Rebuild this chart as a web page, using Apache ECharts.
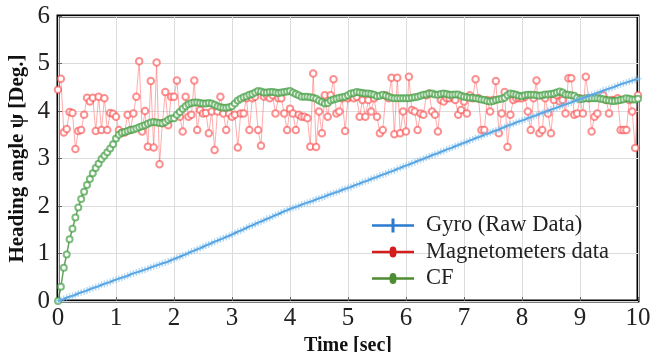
<!DOCTYPE html>
<html>
<head>
<meta charset="utf-8">
<script src="https://cdn.jsdelivr.net/npm/echarts@6/dist/echarts.min.js"></script>
<style>
  html, body { margin: 0; padding: 0; background: #fff; }
  #chart { width: 665px; height: 352px; }
</style>
</head>
<body>
<div id="chart"></div>
<script>
// sampled every 0.05 s, 0..10 s
const sampleStep = 0.05;
const xTicks = [0, 1, 2, 3, 4, 5, 6, 7, 8, 9, 10];
const yTicks = [0, 1, 2, 3, 4, 5, 6];

const gyro = [
  0, 0.02, 0.04, 0.07, 0.09, 0.11, 0.13, 0.16, 0.18, 0.2, 0.22, 0.25, 0.27, 0.29, 0.31, 0.34, 0.36, 0.38, 0.4, 0.43, 0.45,
  0.47, 0.49, 0.51, 0.53, 0.56, 0.58, 0.6, 0.62, 0.64, 0.66, 0.68, 0.71, 0.73, 0.75, 0.77, 0.79, 0.81, 0.83, 0.86, 0.88,
  0.91, 0.93, 0.96, 0.98, 1.01, 1.04, 1.06, 1.09, 1.11, 1.14, 1.17, 1.19, 1.22, 1.25, 1.27, 1.3, 1.32, 1.35, 1.37, 1.4,
  1.43, 1.46, 1.48, 1.51, 1.54, 1.57, 1.59, 1.62, 1.65, 1.67, 1.7, 1.73, 1.75, 1.78, 1.81, 1.83, 1.86, 1.89, 1.91, 1.94,
  1.96, 1.98, 2.0, 2.03, 2.05, 2.07, 2.09, 2.11, 2.14, 2.16, 2.18, 2.2, 2.23, 2.25, 2.27, 2.29, 2.31, 2.34, 2.36, 2.38,
  2.4, 2.43, 2.45, 2.47, 2.5, 2.52, 2.54, 2.57, 2.59, 2.61, 2.64, 2.66, 2.68, 2.71, 2.73, 2.75, 2.78, 2.8, 2.83, 2.85,
  2.87, 2.9, 2.92, 2.95, 2.97, 2.99, 3.02, 3.04, 3.07, 3.09, 3.11, 3.14, 3.16, 3.19, 3.21, 3.23, 3.26, 3.28, 3.31, 3.33,
  3.35, 3.38, 3.4, 3.43, 3.45, 3.47, 3.5, 3.52, 3.54, 3.57, 3.59, 3.61, 3.64, 3.66, 3.69, 3.71, 3.73, 3.76, 3.78, 3.8,
  3.82, 3.85, 3.87, 3.89, 3.91, 3.94, 3.96, 3.98, 4.0, 4.03, 4.05, 4.07, 4.09, 4.12, 4.14, 4.16, 4.18, 4.21, 4.23, 4.25,
  4.27, 4.29, 4.32, 4.34, 4.36, 4.38, 4.4, 4.43, 4.45, 4.47, 4.49, 4.51, 4.54, 4.56, 4.58, 4.6, 4.62, 4.64, 4.66, 4.68
];

const magneto = [
  4.45, 4.68, 3.55, 3.62, 3.98, 3.96, 3.2, 3.58, 3.6, 3.92, 4.28, 4.2, 4.28, 3.58, 4.3, 3.6, 4.27, 3.6, 3.96, 3.94,
  3.88, 3.6, 3.54, 3.55, 3.92, 3.6, 3.95, 4.3, 5.05, 3.57, 4.0, 3.25, 4.63, 3.23, 5.02, 2.88, 3.74, 4.4, 3.7, 4.3,
  4.3, 4.64, 3.88, 3.57, 4.3, 3.88, 3.92, 4.64, 3.6, 4.02, 3.95, 3.96, 3.53, 3.99, 3.18, 3.99, 4.3, 3.95, 3.6, 3.95,
  3.88, 3.92, 3.23, 3.95, 3.95, 4.27, 3.6, 4.27, 4.3, 3.6, 3.27, 4.3, 4.33, 4.27, 4.33, 3.95, 4.27, 4.27, 3.95, 3.6,
  4.05, 3.95, 3.6, 3.92, 3.88, 3.88, 3.85, 3.25, 4.79, 3.24, 3.99, 3.53, 4.33, 3.88, 4.33, 4.67, 3.95, 3.99, 4.27, 3.58,
  4.27, 4.3, 4.27, 4.3, 3.88, 4.23, 3.88, 4.23, 3.99, 4.27, 3.88, 3.53, 3.6, 4.33, 4.27, 4.7, 3.51, 4.7, 3.53, 3.99,
  3.57, 4.72, 4.02, 3.99, 3.6, 3.95, 3.92, 4.33, 4.37, 3.99, 3.92, 3.57, 4.23, 4.2, 4.27, 4.27, 4.3, 4.23, 3.92, 4.02,
  4.2, 3.95, 4.33, 4.27, 4.67, 4.27, 3.6, 3.6, 4.23, 3.99, 4.23, 4.63, 3.53, 3.95, 4.4, 3.24, 3.92, 4.23, 4.27, 4.27,
  4.27, 4.3, 3.99, 3.6, 4.27, 4.64, 3.53, 3.6, 4.27, 3.95, 3.53, 4.23, 4.33, 4.2, 4.23, 3.95, 4.69, 4.69, 3.92, 3.95,
  4.27, 3.95, 4.72, 4.27, 3.57, 3.88, 3.95, 4.33, 4.33, 4.23, 3.95, 4.23, 4.23, 4.27, 3.6, 3.6, 3.6, 4.23, 3.99, 3.22,
  4.33
];

const cf = [
  0, 0.3, 0.7, 0.98, 1.3, 1.52, 1.76, 1.97, 2.15, 2.3, 2.44, 2.57, 2.69, 2.8, 2.89, 2.99, 3.06, 3.13, 3.21, 3.3,
  3.42, 3.5, 3.54, 3.56, 3.58, 3.6, 3.61, 3.63, 3.66, 3.68, 3.7, 3.73, 3.76, 3.77, 3.76, 3.75, 3.74, 3.77, 3.81, 3.84,
  3.85, 3.92, 3.98, 4.05, 4.1, 4.14, 4.17, 4.18, 4.18, 4.17, 4.16, 4.16, 4.17, 4.16, 4.13, 4.1, 4.08, 4.07, 4.07, 4.08,
  4.1, 4.16, 4.22, 4.26, 4.29, 4.31, 4.34, 4.36, 4.39, 4.42, 4.41, 4.39, 4.39, 4.4, 4.4, 4.39, 4.38, 4.39, 4.4, 4.41,
  4.42, 4.39, 4.36, 4.33, 4.3, 4.3, 4.3, 4.29, 4.28, 4.26, 4.22, 4.19, 4.16, 4.17, 4.22, 4.24, 4.26, 4.28, 4.29, 4.3,
  4.33, 4.37, 4.38, 4.4, 4.39, 4.38, 4.37, 4.37, 4.36, 4.34, 4.31, 4.32, 4.34, 4.32, 4.3, 4.28, 4.27, 4.27, 4.27, 4.27,
  4.27, 4.27, 4.28, 4.29, 4.3, 4.32, 4.34, 4.35, 4.37, 4.37, 4.35, 4.34, 4.36, 4.37, 4.36, 4.34, 4.34, 4.35, 4.35, 4.32,
  4.3, 4.29, 4.28, 4.28, 4.27, 4.26, 4.24, 4.23, 4.21, 4.2, 4.21, 4.23, 4.25, 4.26, 4.28, 4.33, 4.37, 4.36, 4.34, 4.32,
  4.31, 4.33, 4.34, 4.34, 4.34, 4.33, 4.32, 4.33, 4.35, 4.35, 4.36, 4.37, 4.39, 4.41, 4.39, 4.35, 4.34, 4.33, 4.32, 4.28,
  4.25, 4.26, 4.27, 4.27, 4.27, 4.27, 4.27, 4.26, 4.25, 4.23, 4.22, 4.21, 4.21, 4.22, 4.23, 4.25, 4.27, 4.26, 4.24, 4.24,
  4.26
];

const names = ['Gyro (Raw Data)', 'Magnetometers data', 'CF'];

const withTime = arr => arr.map((v, i) => [+(i * sampleStep).toFixed(2), v]);

const plus = 'path://M4,0H6V4H10V6H6V10H4V6H0V4H4Z';
// legend icons: line with a big cross / a small oval marker
const plusIcon = 'path://M0,5.8H19.5V0H22.5V5.8H42V8.2H22.5V14H19.5V8.2H0Z';
const ovalIcon = 'path://M0,5.8H17.6A3.4,4.4 0 0 1 24.4,5.8H42V8.2H24.4A3.4,4.4 0 0 1 17.6,8.2H0Z';
const serif = '"Liberation Serif", "DejaVu Serif", serif';

const chart = echarts.init(document.getElementById('chart'));
chart.setOption({
  animation: false,
  grid: {
    left: 58, right: 27, top: 16, bottom: 51,
    outerBoundsMode: 'none', containLabel: false,
    show: true, borderColor: '#000', borderWidth: 3, backgroundColor: 'transparent'
  },
  legend: {
    orient: 'vertical',
    left: 367, top: 209,
    itemWidth: 42, itemHeight: 14, itemGap: 3.5,
    textStyle: { fontFamily: serif, fontSize: 22.5, color: '#222', padding: [0, 0, 0, 7] },
    data: [
      { name: names[0], icon: plusIcon, itemStyle: { color: '#2b7bd0', borderWidth: 0 } },
      { name: names[1], icon: ovalIcon, itemStyle: { color: '#d41e1e', borderWidth: 0 } },
      { name: names[2], icon: ovalIcon, itemStyle: { color: '#4e8c32', borderWidth: 0 } }
    ]
  },
  xAxis: {
    type: 'value', min: 0, max: 10, interval: 1,
    name: 'Time [sec]', nameLocation: 'middle', nameGap: 31,
    nameTextStyle: { fontFamily: serif, fontWeight: 'bold', fontSize: 20, color: '#111' },
    axisLine: { show: false },
    axisTick: { inside: true, length: 4, lineStyle: { color: '#666' } },
    axisLabel: {
      fontFamily: serif, fontSize: 25, color: '#222', margin: 5,
      formatter: v => xTicks.includes(v) ? String(v) : ''
    },
    splitLine: { lineStyle: { color: '#dcdcdc', width: 1 } }
  },
  yAxis: {
    type: 'value', min: 0, max: 6, interval: 1,
    name: 'Heading angle ψ [Deg.]', nameLocation: 'middle', nameGap: 30, nameMoveOverlap: false,
    nameTextStyle: { fontFamily: serif, fontWeight: 'bold', fontSize: 21, color: '#111' },
    axisLine: { show: false },
    axisTick: { inside: true, length: 4, lineStyle: { color: '#666' } },
    axisLabel: {
      fontFamily: serif, fontSize: 25, color: '#222', margin: 8,
      formatter: v => yTicks.includes(v) ? String(v) : ''
    },
    splitLine: { lineStyle: { color: '#dcdcdc', width: 1 } }
  },
  series: [
    {
      name: names[1], type: 'line', data: withTime(magneto), z: 2,
      symbol: 'emptyCircle', symbolSize: 6.5, showAllSymbol: true,
      lineStyle: { color: 'rgba(255,90,90,0.5)', width: 1 },
      itemStyle: { color: 'rgba(250,70,70,0.6)', borderColor: 'rgba(250,70,70,0.6)', borderWidth: 1 }
    },
    {
      name: names[2], type: 'line', data: withTime(cf), z: 3,
      symbol: 'emptyCircle', symbolSize: 6, showAllSymbol: true,
      lineStyle: { color: 'rgba(60,140,50,0.8)', width: 1.5 },
      itemStyle: { color: 'rgba(70,160,70,0.7)', borderColor: 'rgba(70,160,70,0.7)', borderWidth: 1 }
    },
    {
      name: names[0], type: 'line', data: withTime(gyro), z: 4,
      symbol: plus, symbolSize: 7, showAllSymbol: true,
      lineStyle: { color: '#2a7cc8', width: 1.8 },
      itemStyle: { color: 'rgba(120,190,240,0.55)' }
    }
  ]
});
</script>
</body>
</html>
